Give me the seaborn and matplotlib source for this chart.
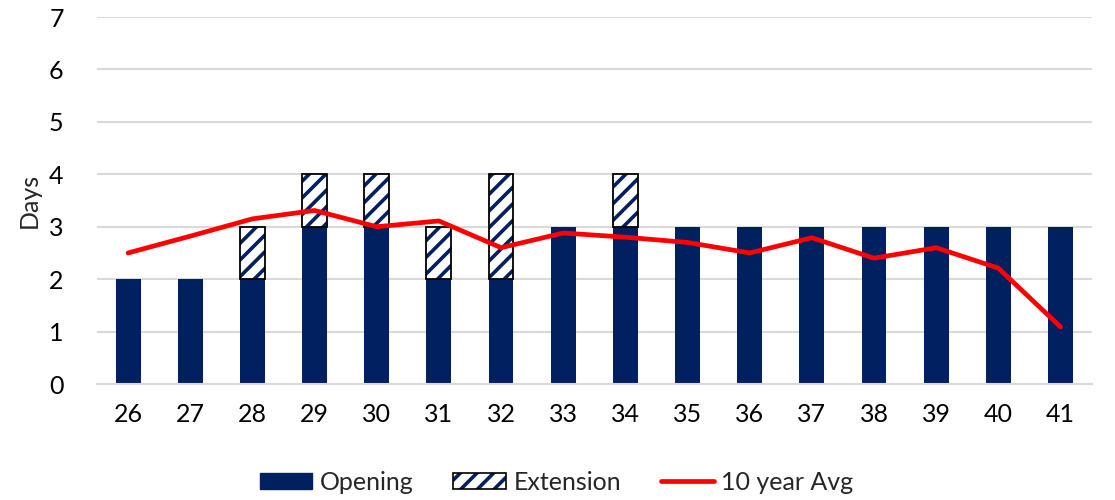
import matplotlib
matplotlib.use("Agg")
import matplotlib.pyplot as plt
import numpy as np
import pandas as pd
import seaborn as sns
from matplotlib.patches import Patch
from matplotlib.lines import Line2D

# Chart data
weeks = ["26", "27", "28", "29", "30", "31", "32", "33",
         "34", "35", "36", "37", "38", "39", "40", "41"]
opening = [2, 2, 2, 3, 3, 2, 2, 3, 3, 3, 3, 3, 3, 3, 3, 3]
extension = [0, 0, 1, 1, 1, 1, 2, 0, 1, 0, 0, 0, 0, 0, 0, 0]
avg_10yr = [2.5, 2.82, 3.15, 3.31, 3.0, 3.11, 2.6, 2.88,
            2.8, 2.7, 2.5, 2.79, 2.4, 2.6, 2.21, 1.09]

NAVY = "#002060"
RED = "#ff0000"
GRID = "#d9d9d9"
FS = 18

sns.set_style("white")
plt.rcParams["font.family"] = ["Lato", "DejaVu Sans"]
plt.rcParams["hatch.linewidth"] = 2.6

df = pd.DataFrame({"week": weeks, "opening": opening,
                   "extension": extension, "avg": avg_10yr})
pos = np.arange(len(weeks))

fig = plt.figure(figsize=(11.15, 5.0), dpi=100)
ax = fig.add_axes([0.087, 0.232, 0.892, 0.734])

# Opening bars
sns.barplot(data=df, x="week", y="opening", order=weeks, color=NAVY,
            saturation=1, width=0.4, edgecolor=NAVY, linewidth=0,
            ax=ax, zorder=2)

# Extension bars stacked on top (hatched)
mask = df["extension"] > 0
ax.bar(pos[mask], df["extension"][mask], bottom=df["opening"][mask],
       width=0.4, color="white", edgecolor=NAVY, hatch="//",
       linewidth=0, zorder=2)
ax.bar(pos[mask], df["extension"][mask], bottom=df["opening"][mask],
       width=0.4, fill=False, edgecolor="black", linewidth=1.3, zorder=3)

# 10 year average line
sns.lineplot(x=pos, y=df["avg"].values, color=RED, linewidth=3.4,
             sort=False, ax=ax, zorder=4, solid_capstyle="round",
             solid_joinstyle="round")

ax.set_ylim(0, 7)
ax.set_xlim(-0.5, 15.5)
ax.set_yticks(range(0, 8))
ax.yaxis.grid(True, color=GRID, linewidth=1.5, zorder=0)
ax.set_axisbelow(True)
for side in ["top", "right", "left"]:
    ax.spines[side].set_visible(False)
ax.spines["bottom"].set_color(GRID)
ax.spines["bottom"].set_linewidth(1.5)
ax.tick_params(axis="both", length=0, labelsize=FS, colors="black")
ax.tick_params(axis="x", pad=14)
ax.tick_params(axis="y", pad=24)
ax.set_xlabel("")
ax.set_ylabel("Days", fontsize=FS, labelpad=6)

# Legend
h_open = Patch(facecolor=NAVY, edgecolor=NAVY)
h_ext = (Patch(facecolor="white", edgecolor=NAVY, hatch="//", linewidth=0),
         Patch(fill=False, edgecolor="black", linewidth=1.2))
h_avg = Line2D([0], [0], color=RED, linewidth=3.4, solid_capstyle="round")
fig.legend([h_open, h_ext, h_avg], ["Opening", "Extension", "10 year Avg"],
           loc="center", bbox_to_anchor=(0.499, 0.036), ncol=3, frameon=False,
           fontsize=FS, handlelength=2.1, handleheight=0.6,
           handletextpad=0.3, columnspacing=1.6)

fig.savefig("out.png", dpi=100)
